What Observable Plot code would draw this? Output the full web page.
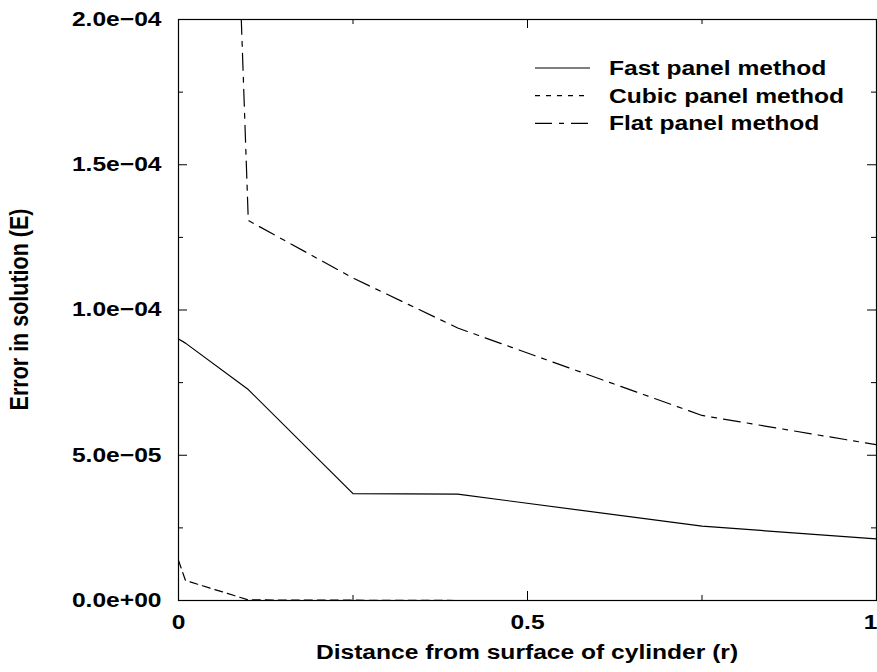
<!DOCTYPE html>
<html><head><meta charset="utf-8">
<script src="https://cdn.jsdelivr.net/npm/d3@7"></script>
<script src="https://cdn.jsdelivr.net/npm/@observablehq/plot@0.6"></script>
<style>body{margin:0;background:#fff} svg{display:block}</style>
</head><body><div id="chart"></div>
<script>
// ---- data ----
const fastX  = [0, 0.01, 0.1, 0.25, 0.4, 0.75, 1];
const fastY  = [9.0e-5, 8.86e-5, 7.26e-5, 3.68e-5, 3.66e-5, 2.56e-5, 2.12e-5];
const cubicX = [0, 0.01, 0.1, 0.25, 0.4, 0.75, 1];
const cubicY = [1.38e-5, 6.9e-6, 2e-7, 1e-7, 0, 0, 0];
const flatX  = [0, 0.1, 0.25, 0.4, 0.75, 1];
const flatY  = [8.2e-4, 1.308e-4, 1.11e-4, 9.38e-5, 6.37e-5, 5.36e-5];
const seriesNames = ["Fast panel method", "Cubic panel method", "Flat panel method"];
const yMajor = [0, 5e-5, 1e-4, 1.5e-4, 2e-4];
const yMinor = [2.5e-5, 7.5e-5, 1.25e-4, 1.75e-4];
const xMajor = [0, 0.5, 1];
const xMinor = [0.25, 0.75];
const xTickLabels = ["0", "0.5", "1"];
const xLabel = "Distance from surface of cylinder (r)";
const yLabel = "Error in solution (E)";

// ---- layout / style ----
const W = 877, H = 672, ML = 178, MR = 1, MT = 19, MB = 72;
const innerW = W - ML - MR, innerH = H - MT - MB;
const SX = 1.23; // horizontal text stretch seen in the reference
const FONT = "'Liberation Sans', Arial, Helvetica, sans-serif";
const dashes = ["none", "8,5", "17,7,5,7"];

const fmtY = v => {
  const [m, e] = v.toExponential(1).split("e");
  const n = +e;
  return m + "e" + (n < 0 ? "\u2212" : "+") + String(Math.abs(n)).padStart(2, "0");
};
const fmtX = d => xTickLabels[xMajor.indexOf(d)];
const toRows = (xs, ys) => xs.map((x, i) => ({x, y: ys[i]}));
const fastData = toRows(fastX, fastY);
const cubicData = toRows(cubicX, cubicY);
const flatData = toRows(flatX, flatY);

const svg = Plot.plot({
  width: W, height: H,
  marginLeft: ML, marginRight: MR, marginTop: MT, marginBottom: MB,
  x: {domain: [0, 1]},
  y: {domain: [0, 2e-4]},
  style: {fontFamily: FONT, fontSize: "20px", fontWeight: "bold", color: "#000", background: "#fff", overflow: "visible"},
  marks: [
    Plot.tickY(yMajor, {y: d => d, stroke: "#000", insetRight: innerW - 9}),
    Plot.tickY(yMajor, {y: d => d, stroke: "#000", insetLeft: innerW - 9}),
    Plot.tickY(yMinor, {y: d => d, stroke: "#000", insetRight: innerW - 5}),
    Plot.tickY(yMinor, {y: d => d, stroke: "#000", insetLeft: innerW - 5}),
    Plot.tickX(xMajor, {x: d => d, stroke: "#000", insetTop: innerH - 9}),
    Plot.tickX(xMajor, {x: d => d, stroke: "#000", insetBottom: innerH - 9}),
    Plot.tickX(xMinor, {x: d => d, stroke: "#000", insetTop: innerH - 5}),
    Plot.tickX(xMinor, {x: d => d, stroke: "#000", insetBottom: innerH - 5}),
    Plot.line(flatData, {x: "x", y: "y", stroke: "#000", strokeWidth: 1.2, strokeDasharray: dashes[2], clip: true}),
    Plot.line(cubicData, {x: "x", y: "y", stroke: "#000", strokeWidth: 1.2, strokeDasharray: dashes[1], clip: true}),
    Plot.line(fastData, {x: "x", y: "y", stroke: "#000", strokeWidth: 1.2, clip: true}),
    Plot.frame({stroke: "#000", strokeWidth: 1.2}),
    Plot.axisY(yMajor, {tickSize: 0, tickPadding: 17, tickFormat: fmtY, label: null}),
    Plot.axisX(xMajor.slice(0, 2), {tickSize: 0, tickPadding: 14, tickFormat: fmtX, label: null}),
    Plot.axisX(xMajor.slice(2), {tickSize: 0, tickPadding: 14, tickFormat: fmtX, label: null, textAnchor: "end", dx: 1})
  ]
});

// stretch text horizontally like the reference
d3.select(svg).selectAll("text").each(function () {
  const t = d3.select(this);
  const tr = t.attr("transform") || "";
  const x = t.attr("x"), y = t.attr("y");
  const okx = x != null && !/em/.test(x), oky = y != null && !/em/.test(y);
  if (okx) t.attr("x", null);
  if (oky) t.attr("y", null);
  t.attr("transform", `${tr} translate(${okx ? +x : 0},${oky ? +y : 0}) scale(${SX},1)`);
});

const g = d3.select(svg).append("g")
  .attr("font-family", FONT).attr("font-weight", "bold").attr("fill", "#000");

// axis labels
g.append("text")
  .attr("transform", `translate(${ML + innerW / 2},${H - 13}) scale(${SX},1)`)
  .attr("text-anchor", "middle").attr("font-size", 20).text(xLabel);
g.append("text")
  .attr("transform", `translate(19,${MT + innerH / 2}) rotate(-90) scale(1,1.2)`)
  .attr("text-anchor", "middle").attr("dy", "0.35em").attr("font-size", 21.5).text(yLabel);

// legend
const legY = [68, 95.7, 123.4];
const legDash = [null, "5,6", "17,7,5,7"];
seriesNames.forEach((name, i) => {
  g.append("line").attr("x1", 535).attr("x2", 590).attr("y1", legY[i]).attr("y2", legY[i])
    .attr("stroke", "#000").attr("stroke-width", 1.2)
    .attr("stroke-dasharray", legDash[i]);
  g.append("text")
    .attr("transform", `translate(609,${legY[i]}) scale(${SX},1)`)
    .attr("text-anchor", "start")
    .attr("dy", "0.35em").attr("font-size", 20).text(name);
});

document.getElementById("chart").appendChild(svg);
</script>
</body></html>
